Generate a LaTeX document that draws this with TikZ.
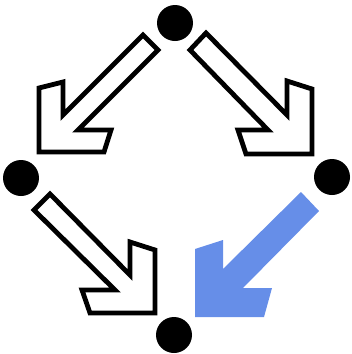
\documentclass[tikz,border=0pt]{standalone}
\definecolor{arrowblue}{RGB}{102,142,232}
\tikzset{
  dot/.style={circle,fill=black,inner sep=0pt,minimum size=36pt},
  hollowarrow/.style={draw=black,fill=white,line width=4.8pt,line join=miter},
  fullarrow/.style={fill=arrowblue,draw=none}
}
\begin{document}
\begin{tikzpicture}[x=1pt,y=-1pt]
\useasboundingbox (0,0) rectangle (352,354);
\node[dot] (t) at (175,23) {};
\node[dot] (l) at (21,178) {};
\node[dot] (r) at (332,177) {};
\node[dot] (b) at (174,335) {};
% top-left arrow
\draw[hollowarrow] (143,35) -- (63,115) -- (63,82) -- (39,88) -- (39,152) -- (104,152) -- (111,130) -- (78,130) -- (158,50) -- cycle;
% top-right arrow
\draw[hollowarrow] (206,33) -- (287,115) -- (287,81) -- (312,89) -- (312,154) -- (246,154) -- (238,130) -- (268,130) -- (190,50) -- cycle;
% bottom-left arrow
\draw[hollowarrow] (50,194) -- (130,275) -- (130,242) -- (155,250) -- (155,313) -- (90,313) -- (82,290) -- (115,290) -- (34,210) -- cycle;
% bottom-right arrow
\fill[fullarrow] (301,192) -- (319,211) -- (243,288) -- (272,288) -- (264,317) -- (195,317) -- (195,249) -- (223,240) -- (223,269) -- cycle;
\end{tikzpicture}
\end{document}
